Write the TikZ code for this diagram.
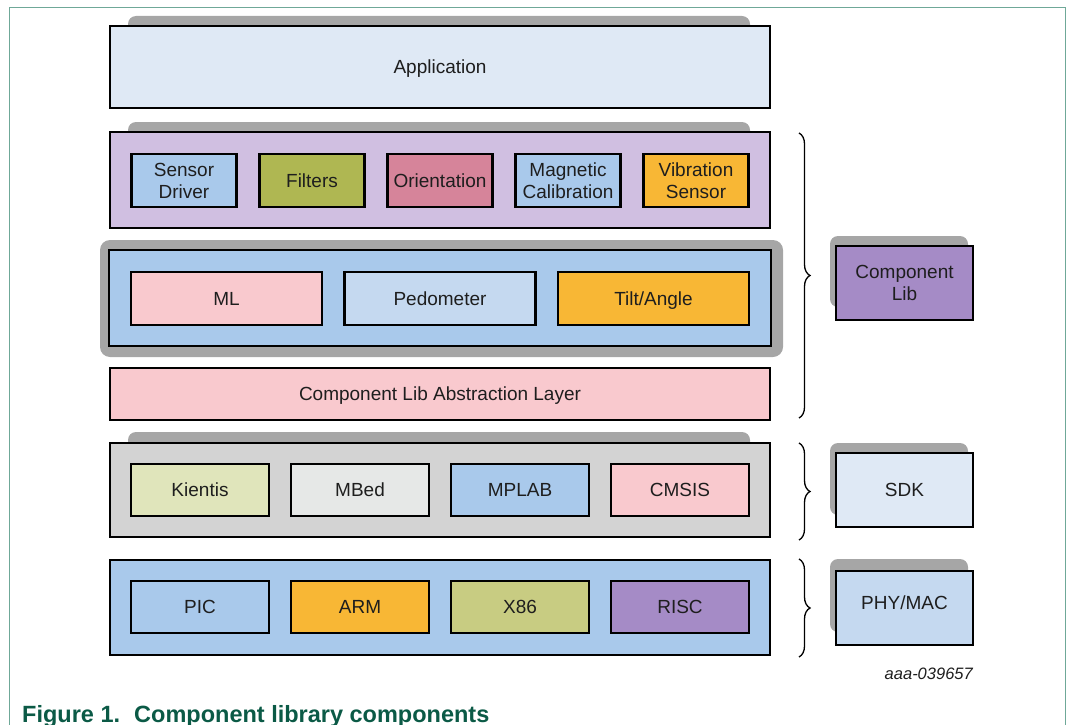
\documentclass[tikz,border=0pt]{standalone}
\usepackage{fontspec}
\setmainfont{Liberation Sans}
\usetikzlibrary{decorations.pathreplacing}
\definecolor{shadowgray}{HTML}{A6A6A6}
\definecolor{txt}{HTML}{1E1E1E}
\definecolor{applbg}{HTML}{DFE9F5}
\definecolor{purplebg}{HTML}{D0BFE1}
\definecolor{ltblue}{HTML}{A9C9EB}
\definecolor{paleblue}{HTML}{C5D9F0}
\definecolor{olive}{HTML}{AFB752}
\definecolor{rose}{HTML}{D6849A}
\definecolor{orange}{HTML}{F8B735}
\definecolor{pink}{HTML}{F9C9CE}
\definecolor{sdkgray}{HTML}{D3D3D3}
\definecolor{kient}{HTML}{E0E5BB}
\definecolor{mbed}{HTML}{E6E8E7}
\definecolor{xolive}{HTML}{C8CC82}
\definecolor{violet}{HTML}{A58BC6}
\definecolor{framecol}{HTML}{6FA898}
\definecolor{capgreen}{HTML}{0B5A46}
\begin{document}
\begin{tikzpicture}[x=1pt,y=-1pt,
  box/.style={draw=black, line width=2.6pt, inner sep=0pt, align=center,
    font=\fontsize{19}{22}\selectfont, text=txt, text depth=0pt},
  layerbox/.style={box, minimum width=660pt},
  topcomp/.style={box, minimum width=105pt, minimum height=53pt},
  midcomp/.style={box, minimum width=191pt, minimum height=53pt},
  lowcomp/.style={box, minimum width=138pt, minimum height=52pt},
  sidebox/.style={box, minimum width=137pt, minimum height=74pt},
  shadowbox/.style={fill=shadowgray, rounded corners=8pt},
  bracepath/.style={draw=black, line width=1.3pt, decorate,
    decoration={brace, amplitude=11pt}},
]
\useasboundingbox (0,0) rectangle (1068,725);

% frame
\draw[framecol, line width=1pt] (9,730) -- (9,8) -- (1065,8) -- (1065,730);

% shadows
\fill[shadowbox] (128,16) rectangle (750,50);
\fill[shadowbox] (128,122) rectangle (750,150);
\fill[shadowbox] (128,432) rectangle (750,460);
\fill[shadowbox] (830,236) rectangle (968,307);
\fill[shadowbox] (830,443) rectangle (968,515);
\fill[shadowbox] (830,559) rectangle (968,632);
\fill[shadowgray, rounded corners=10pt] (100,240) rectangle (783,357);

% Application
\node[layerbox, fill=applbg, minimum height=82pt] (app) at (440,67) {Application};

% Sensor layer
\node[layerbox, fill=purplebg, minimum height=96pt] (sens) at (440,180) {};
\node[topcomp, fill=ltblue] (sd) at (184,180.5) {Sensor\\Driver};
\node[topcomp, fill=olive] (filt) at (312,180.5) {Filters};
\node[topcomp, fill=rose] (orient) at (440,180.5) {Orientation};
\node[topcomp, fill=ltblue] (mag) at (568,180.5) {Magnetic\\Calibration};
\node[topcomp, fill=orange] (vib) at (696,180.5) {Vibration\\Sensor};

% Algorithm layer
\node[box, fill=ltblue, minimum width=662pt, minimum height=96pt] (alg) at (440,298) {};
\node[midcomp, fill=pink] (ml) at (226.5,298.5) {ML};
\node[midcomp, fill=paleblue] (ped) at (440,298.5) {Pedometer};
\node[midcomp, fill=orange] (tilt) at (653.5,298.5) {Tilt/Angle};

% Abstraction layer
\node[layerbox, fill=pink, minimum height=52pt] (abs) at (440,394) {Component Lib Abstraction Layer};

% SDK layer
\node[layerbox, fill=sdkgray, minimum height=94pt] (sdkl) at (440,490) {};
\node[lowcomp, fill=kient] (kien) at (200,490) {Kientis};
\node[lowcomp, fill=mbed] (mbed) at (360,490) {MBed};
\node[lowcomp, fill=ltblue] (mplab) at (520,490) {MPLAB};
\node[lowcomp, fill=pink] (cmsis) at (680,490) {CMSIS};

% HW layer
\node[layerbox, fill=ltblue, minimum height=95pt] (hw) at (440,607.5) {};
\node[lowcomp, fill=ltblue] (pic) at (200,607) {PIC};
\node[lowcomp, fill=orange] (arm) at (360,607) {ARM};
\node[lowcomp, fill=xolive] (x86) at (520,607) {X86};
\node[lowcomp, fill=violet] (risc) at (680,607) {RISC};

% side boxes
\node[sidebox, fill=violet] (clib) at (904.5,283) {Component\\Lib};
\node[sidebox, fill=applbg] (sdk) at (904.5,490) {SDK};
\node[sidebox, fill=paleblue, text depth=10pt] (phy) at (904.5,608) {PHY/MAC};

% braces
\coordinate (b1t) at (799,133);
\coordinate (b1b) at (799,418);
\coordinate (b2t) at (799,443);
\coordinate (b2b) at (799,540);
\coordinate (b3t) at (799,559);
\coordinate (b3b) at (799,657);
\draw[bracepath] (b1t) -- (b1b);
\draw[bracepath] (b2t) -- (b2b);
\draw[bracepath] (b3t) -- (b3b);

% id
\node[anchor=east, inner sep=0pt, text=txt, font=\fontsize{16.5}{18}\selectfont\itshape] (fid) at (973,674) {aaa-039657};

% caption
\node[anchor=base west, inner sep=0pt, text=capgreen, font=\fontsize{23.5}{26}\selectfont\bfseries] (cap) at (22,722) {Figure 1.\hspace{0.6em}Component library components};
\end{tikzpicture}
\end{document}
